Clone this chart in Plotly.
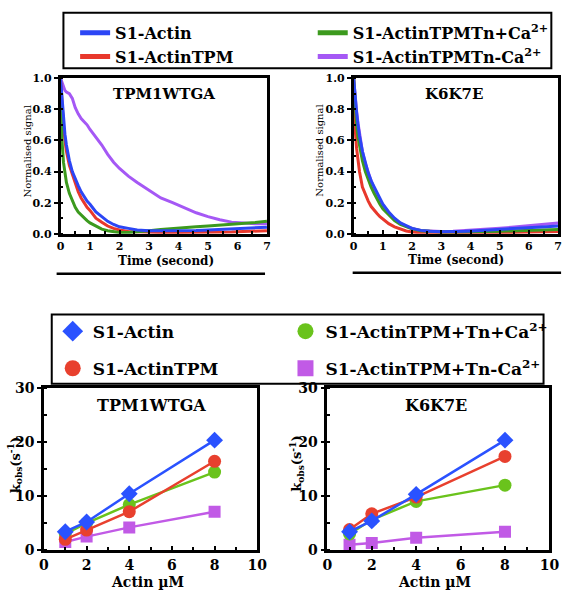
import plotly.graph_objects as go

W, H = 574, 600
FONT = "DejaVu Serif"

# ---------------- data: stopped-flow traces ----------------
time_s = [0, 0.05, 0.1, 0.15, 0.2, 0.3, 0.4, 0.5, 0.6, 0.7, 0.8, 0.9, 1.0, 1.2, 1.4, 1.6,
          1.8, 2.0, 2.3, 2.6, 3.0, 3.4, 3.8, 4.2, 4.6, 5.0, 5.4, 5.8, 6.2, 6.6, 7.0]

wt_actin = [1.0, 0.86, 0.74, 0.64, 0.57, 0.47, 0.40, 0.35, 0.31, 0.27, 0.24, 0.21, 0.19, 0.14, 0.11, 0.08,
            0.06, 0.045, 0.035, 0.025, 0.02, 0.02, 0.018, 0.02, 0.022, 0.025, 0.028, 0.032, 0.035, 0.04, 0.042]
wt_tpm = [1.0, 0.82, 0.70, 0.60, 0.53, 0.44, 0.38, 0.32, 0.27, 0.23, 0.20, 0.17, 0.15, 0.10, 0.075, 0.05,
          0.035, 0.025, 0.015, 0.012, 0.01, 0.008, 0.008, 0.008, 0.01, 0.01, 0.012, 0.012, 0.015, 0.018, 0.02]
wt_ca = [0.92, 0.60, 0.46, 0.38, 0.33, 0.26, 0.21, 0.17, 0.14, 0.12, 0.10, 0.085, 0.07, 0.05, 0.03, 0.02,
         0.012, 0.008, 0.008, 0.012, 0.02, 0.028, 0.035, 0.04, 0.045, 0.05, 0.055, 0.06, 0.065, 0.072, 0.08]
wt_noca = [1.0, 0.97, 0.94, 0.92, 0.91, 0.90, 0.87, 0.81, 0.77, 0.74, 0.72, 0.70, 0.67, 0.62, 0.57, 0.51,
           0.46, 0.42, 0.37, 0.33, 0.28, 0.23, 0.20, 0.165, 0.135, 0.11, 0.09, 0.075, 0.068, 0.065, 0.065]

kk_actin = [1.0, 0.86, 0.78, 0.70, 0.63, 0.53, 0.45, 0.39, 0.34, 0.30, 0.26, 0.22, 0.19, 0.14, 0.10, 0.07,
            0.05, 0.035, 0.022, 0.016, 0.014, 0.014, 0.016, 0.02, 0.025, 0.03, 0.034, 0.038, 0.042, 0.046, 0.05]
kk_tpm = [1.0, 0.68, 0.55, 0.47, 0.40, 0.30, 0.25, 0.21, 0.175, 0.15, 0.13, 0.11, 0.094, 0.065, 0.045, 0.03,
          0.018, 0.012, 0.006, 0.005, 0.004, 0.004, 0.004, 0.005, 0.006, 0.007, 0.008, 0.009, 0.01, 0.012, 0.015]
kk_ca = [1.0, 0.80, 0.70, 0.62, 0.56, 0.47, 0.40, 0.345, 0.30, 0.26, 0.22, 0.19, 0.16, 0.12, 0.085, 0.06,
         0.045, 0.032, 0.02, 0.015, 0.012, 0.012, 0.012, 0.014, 0.015, 0.017, 0.019, 0.021, 0.023, 0.025, 0.028]
kk_noca = [1.0, 0.88, 0.79, 0.71, 0.64, 0.53, 0.45, 0.39, 0.34, 0.29, 0.25, 0.215, 0.185, 0.135, 0.095, 0.068,
           0.048, 0.034, 0.022, 0.017, 0.015, 0.016, 0.02, 0.025, 0.03, 0.036, 0.042, 0.048, 0.055, 0.062, 0.07]

# ---------------- data: kobs vs actin ----------------
actin_uM = [1, 2, 4, 8]
k_wt_actin = [3.4, 5.2, 10.4, 20.3]
k_wt_tpm = [2.0, 3.7, 7.1, 16.4]
k_wt_ca = [3.0, 5.0, 8.4, 14.4]
k_wt_noca = [1.5, 2.5, 4.2, 7.1]

k_kk_actin = [3.4, 5.4, 10.3, 20.3]
k_kk_tpm = [3.8, 6.7, 9.8, 17.3]
k_kk_ca = [3.0, 5.6, 9.0, 12.0]
k_kk_noca = [1.0, 1.3, 2.3, 3.4]

top_names = ["S1-Actin", "S1-ActinTPM", "S1-ActinTPMTn+Ca<sup>2+</sup>", "S1-ActinTPMTn-Ca<sup>2+</sup>"]
bot_names = ["S1-Actin", "S1-ActinTPM", "S1-ActinTPM+Tn+Ca<sup>2+</sup>", "S1-ActinTPM+Tn-Ca<sup>2+</sup>"]
top_cols = ["#2c46f5", "#e8382c", "#3c9a1e", "#a558f5"]
bot_cols = ["#2a52ff", "#e8402e", "#6ac31c", "#c15ae6"]
bot_syms = ["diamond", "circle", "circle", "square"]


def px(x):
    return x / W


def py(y):
    return 1 - y / H


fig = go.Figure()

# top traces
for (ax, sets) in [("", [wt_noca, wt_tpm, wt_ca, wt_actin]), ("2", [kk_noca, kk_tpm, kk_ca, kk_actin])]:
    order = [3, 1, 2, 0]
    for ser, idx in zip(sets, order):
        fig.add_trace(go.Scatter(x=time_s, y=ser, mode="lines", showlegend=False,
                                 line=dict(color=top_cols[idx], width=3),
                                 xaxis="x" + ax, yaxis="y" + ax))

# bottom traces
for (ax, sets) in [("3", [k_wt_noca, k_wt_ca, k_wt_tpm, k_wt_actin]),
                   ("4", [k_kk_noca, k_kk_ca, k_kk_tpm, k_kk_actin])]:
    order = [3, 2, 1, 0]
    for ser, idx in zip(sets, order):
        fig.add_trace(go.Scatter(x=actin_uM, y=ser, mode="lines+markers", showlegend=False,
                                 line=dict(color=bot_cols[idx], width=2.5),
                                 marker=dict(color=bot_cols[idx], symbol=bot_syms[idx],
                                             size=13 if idx != 3 else 12),
                                 xaxis="x" + ax, yaxis="y" + ax))

# legend-only entries
leg_map = [("legend", 0), ("legend", 1), ("legend2", 2), ("legend2", 3)]
for lg, i in leg_map:
    fig.add_trace(go.Scatter(x=[None], y=[None], mode="lines", name=top_names[i],
                             line=dict(color=top_cols[i], width=5), legend=lg,
                             legendgroup="t%d" % i))
leg_map2 = [("legend3", 0), ("legend3", 1), ("legend4", 2), ("legend4", 3)]
for lg, i in leg_map2:
    fig.add_trace(go.Scatter(x=[None], y=[None], mode="markers", name=bot_names[i],
                             marker=dict(color=bot_cols[i], symbol=bot_syms[i], size=16), legend=lg,
                             legendgroup="b%d" % i))

tickf_top = dict(family=FONT, size=11, color="black", weight="bold")
tickf_bot = dict(family=FONT, size=14, color="black", weight="bold")


def axis(dom, rng, dtick, minor_dtick, tf, anchor, ticks="outside"):
    return dict(domain=dom, range=rng, dtick=dtick, tick0=0, showline=True, linewidth=2.5,
                linecolor="black", mirror=True, ticks=ticks, ticklen=4, tickwidth=2,
                tickcolor="black", showgrid=False, zeroline=False, tickfont=tf, anchor=anchor,
                minor=dict(dtick=minor_dtick, ticks="inside", ticklen=3, tickwidth=2, tickcolor="black"),
                fixedrange=True)


topY = [py(232), py(72)]
botY = [py(557), py(390)]
fig.update_layout(
    width=W, height=H, margin=dict(l=0, r=0, t=0, b=0),
    paper_bgcolor="white", plot_bgcolor="white",
    font=dict(family=FONT, color="black"),
    xaxis=axis([px(57), px(269)], [0, 7], 1, 0.5, tickf_top, "y", "inside"),
    yaxis=axis(topY, [0, 1], 0.2, 0.1, tickf_top, "x"),
    xaxis2=axis([px(358), px(568)], [0, 7], 1, 0.5, tickf_top, "y2", "inside"),
    yaxis2=axis(topY, [0, 1], 0.2, 0.1, tickf_top, "x2"),
    xaxis3=axis([px(40), px(259)], [0, 10], 2, 1, tickf_bot, "y3", "inside"),
    yaxis3=axis(botY, [0, 30], 10, 5, tickf_bot, "x3"),
    xaxis4=axis([px(331), px(559)], [0, 10], 2, 1, tickf_bot, "y4", "inside"),
    yaxis4=axis(botY, [0, 30], 10, 5, tickf_bot, "x4"),
)
for k in ["yaxis", "yaxis2"]:
    fig.layout[k].tickformat = ".1f"

legfont_top = dict(family=FONT, size=16, color="black", weight="bold")
legfont_bot = dict(family=FONT, size=17, color="black", weight="bold")
common = dict(xanchor="left", yanchor="top", bgcolor="rgba(0,0,0,0)", borderwidth=0,
              traceorder="grouped", itemwidth=30, orientation="v")
fig.update_layout(
    legend=dict(x=px(72), y=py(8), font=legfont_top, tracegroupgap=0, **common),
    legend2=dict(x=px(316), y=py(8), font=legfont_top, tracegroupgap=0, **common),
    legend3=dict(x=px(49), y=py(314), font=legfont_bot, tracegroupgap=12, **common),
    legend4=dict(x=px(288), y=py(314), font=legfont_bot, tracegroupgap=12, **common),
)

shapes = [
    dict(type="rect", xref="paper", yref="paper", x0=px(60), x1=px(561), y0=py(62), y1=py(5),
         line=dict(color="black", width=2)),
    dict(type="rect", xref="paper", yref="paper", x0=px(48), x1=px(553), y0=py(386), y1=py(315),
         line=dict(color="black", width=2)),
    dict(type="line", xref="paper", yref="paper", x0=px(53), x1=px(267), y0=py(273), y1=py(273),
         line=dict(color="black", width=2.5)),
    dict(type="line", xref="paper", yref="paper", x0=px(357), x1=px(571), y0=py(272), y1=py(272),
         line=dict(color="black", width=2.5)),
]
fig.update_layout(shapes=shapes)


def ann(text, x, y, size, bold=True, angle=0):
    return dict(text=text, x=px(x), y=py(y), xref="paper", yref="paper", showarrow=False,
                xanchor="center", yanchor="middle", textangle=angle,
                font=dict(family=FONT, size=size, color="black", weight="bold" if bold else "normal"))


anns = [
    ann("TPM1WTGA", 163, 88, 15),
    ann("K6K7E", 461, 88, 15),
    ann("Time (second)", 165, 260, 12),
    ann("Time (second)", 463, 259, 12),
    ann("Normalised signal", 23, 147, 10, bold=False, angle=-90),
    ann("Normalised signal", 323, 147, 10, bold=False, angle=-90),
    ann("TPM1WTGA", 150, 408, 16),
    ann("K6K7E", 443, 408, 16),
    ann("Actin µM", 146, 590, 14),
    ann("Actin µM", 441, 590, 14),
    ann("k<sub>obs</sub>(s<sup>-1</sup>)", 10, 470, 13, angle=-90),
    ann("k<sub>obs</sub>(s<sup>-1</sup>)", 299, 468, 13, angle=-90),
]
fig.update_layout(annotations=anns)

fig.write_html("out.html")
